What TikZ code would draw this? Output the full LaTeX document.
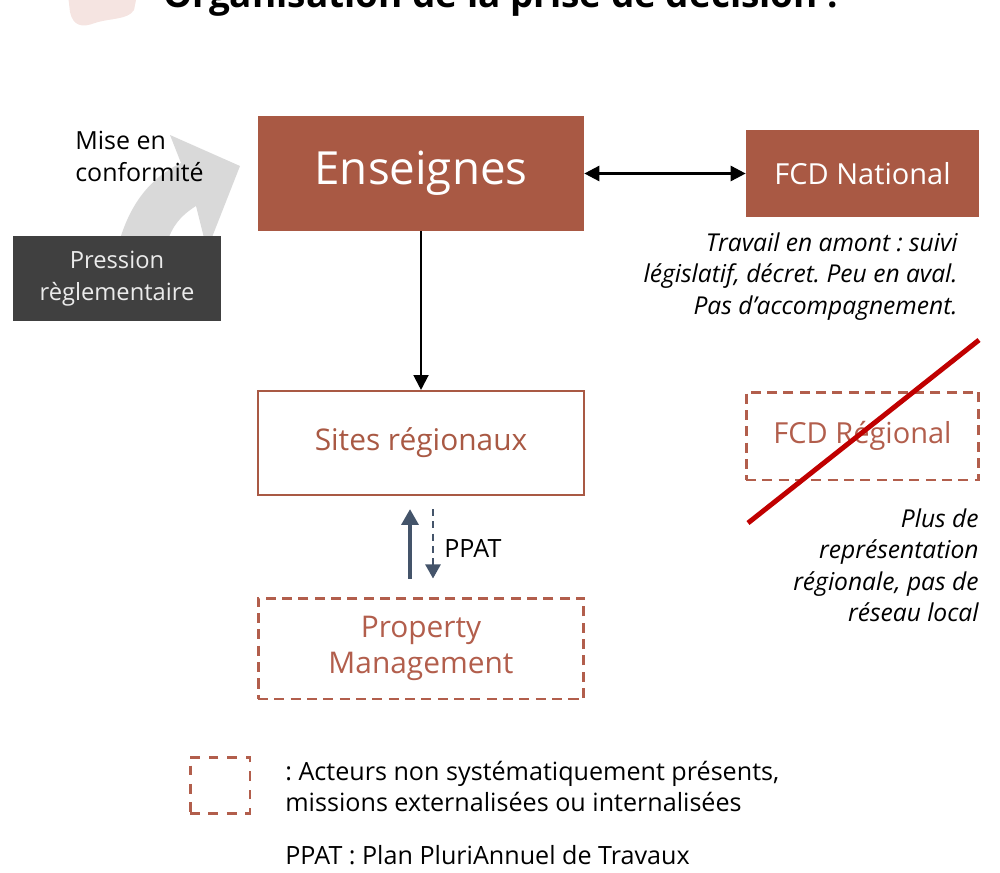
\documentclass[tikz,border=0pt]{standalone}
\usepackage{fontspec}
\setmainfont{Open Sans}
\usetikzlibrary{arrows.meta,positioning,calc}
\definecolor{brique}{HTML}{A95944}
\definecolor{briqueclair}{HTML}{B25E4C}
\definecolor{ardoise}{HTML}{44546A}
\definecolor{anthracite}{HTML}{404040}
\definecolor{rouge}{HTML}{C00000}
\definecolor{rose}{HTML}{F5E4E1}
\frenchspacing
\tikzset{plein/.style={fill=brique, text=white, inner sep=0pt},
	cadre/.style={draw=brique, line width=1.2pt, text=brique, fill=white, inner sep=0pt},
	pointille/.style={draw=briqueclair, line width=1.7pt, dash pattern=on 5.7pt off 3.6pt, text=briqueclair, inner sep=0pt},
	note/.style={font=\itshape\fontsize{14}{18}\selectfont, align=right, anchor=north east, inner sep=0pt},
	texte/.style={font=\fontsize{14.3}{17.6}\selectfont, align=left, inner sep=0pt}}

\begin{document}
\begin{tikzpicture}[x=0.02cm, y=-0.02cm, >={Triangle[length=8.5pt,width=8.5pt]}]
\useasboundingbox (0,0) rectangle (1000,872);
% bandeau du titre, coupe en haut
\fill[rose] (68,-5) -- (70,12) .. controls (73,26) and (82,28) .. (95,23) .. controls (110,18) and (128,20) .. (134,10) -- (137,-5) -- cycle;
\node[anchor=base west, inner sep=0pt, font=\bfseries\fontsize{21}{25}\selectfont] (titre) at (163,8) {Organisation de la prise de décision :};
% fleche courbe grise
\fill[gray!30] (117,250) .. controls (128,205) and (150,178) .. (181,163) -- (170,135) -- (240,166) -- (207,250) -- (196,206) .. controls (180,216) and (170,228) .. (165,250) -- cycle;
\node[plein, minimum width=4.16cm, minimum height=1.7cm, fill=anthracite, text=white!92!black, align=center, font=\fontsize{13.5}{18}\selectfont] (pression) at (117,278.5) {Pression\\règlementaire};
\node[texte, anchor=north west, font=\fontsize{14.2}{18}\selectfont] (conformite) at (75,131) {Mise en\\conformité};
% acteurs
\node[plein, minimum width=6.52cm, minimum height=2.3cm, font=\fontsize{26}{30}\selectfont] (ens) at (421,173.5) {\raisebox{-2pt}{Enseignes}};
\node[plein, minimum width=4.66cm, minimum height=1.74cm, font=\fontsize{16.5}{20}\selectfont] (fcdnat) at (862.5,173.5) {FCD National};
\node[cadre, minimum width=6.52cm, minimum height=2.08cm, font=\fontsize{17}{20}\selectfont] (sites) at (421,443) {Sites régionaux};
\node[pointille, minimum width=6.52cm, minimum height=2.02cm, align=center, font=\fontsize{17}{20.5}\selectfont] (prop) at (421,648.5) {Property\\Management};
\node[pointille, minimum width=4.66cm, minimum height=1.76cm, font=\fontsize{16.5}{20}\selectfont] (fcdreg) at (862.5,436) {FCD Régional};
\node[note] (amont) at (958,232) {Travail en amont : suivi\\législatif, décret. Peu en aval.\\Pas d’accompagnement.};
\node[note] (local) at (979,508) {Plus de\\représentation\\régionale, pas de\\réseau local};
% liens
\draw[<->, line width=1.5pt] (ens) -- (fcdnat);
\draw[->, line width=1.2pt] (ens) -- (sites);
\draw[-{Triangle[length=9pt,width=9.5pt]}, ardoise, line width=2.2pt] ($(prop.north)+(-11,-18)$) -- ($(sites.south)+(-11,13)$);
\draw[-{Triangle[length=8pt,width=8.5pt]}, ardoise, line width=1.5pt, dash pattern=on 4pt off 3pt] ($(sites.south)+(12,13)$) -- ($(prop.north)+(12,-18)$);
\node[texte, anchor=west] (ppat) at (444,548) {PPAT};
\draw[rouge, line width=2.8pt] (748,523) -- (979,340);
% legende
\node[pointille, minimum width=1.2cm, minimum height=1.12cm, dash pattern=on 5.5pt off 5pt] (cle) at (220,785) {};
\node[texte, anchor=north west] (cletexte) at (285,761) {: Acteurs non systématiquement présents,\\missions externalisées ou internalisées};
\node[texte, anchor=base west] (sigle) at (285,864) {PPAT : Plan PluriAnnuel de Travaux};
\end{tikzpicture}
\end{document}
